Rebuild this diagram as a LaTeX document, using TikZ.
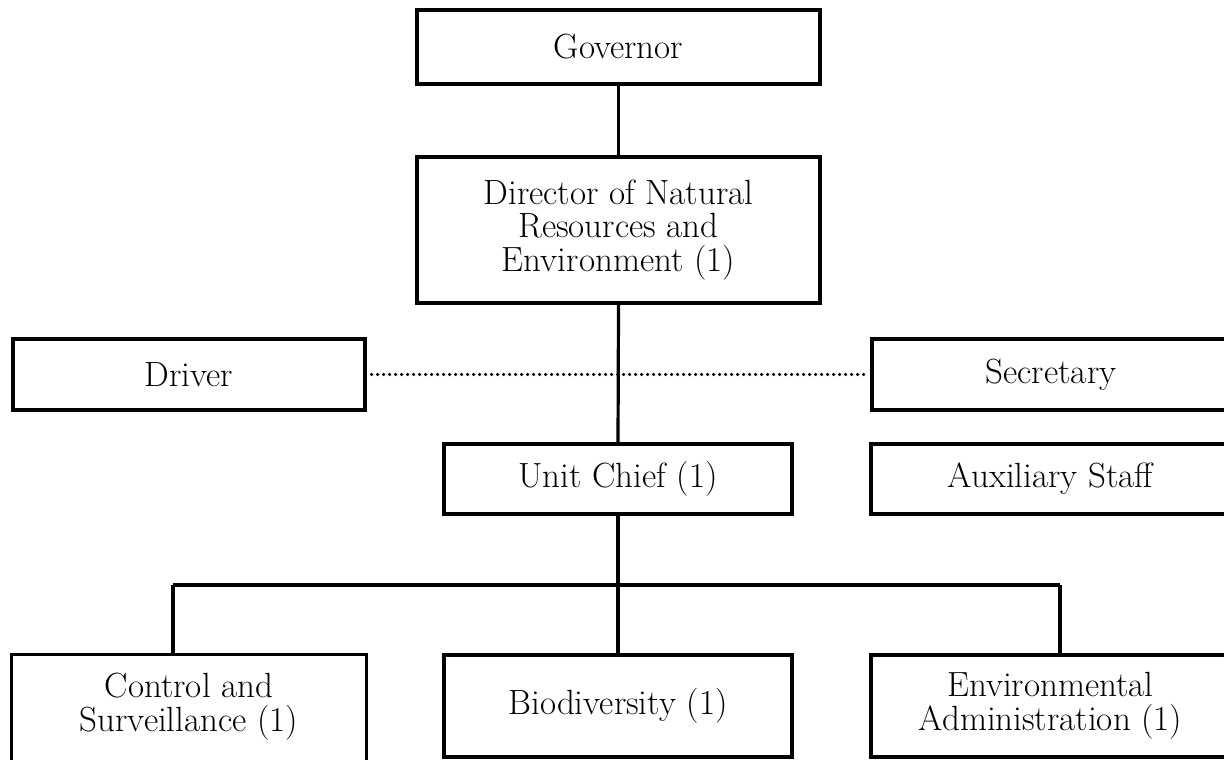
\documentclass[tikz,border=0pt]{standalone}
\begin{document}
\begin{tikzpicture}[x=0.5pt,y=-0.5pt,
  box/.style={draw=black,line width=1.6pt,inner sep=0pt,align=center,anchor=center,
    font=\fontsize{17.5pt}{16.8pt}\selectfont},
  conn/.style={draw=black,line width=1.6pt},
  dotline/.style={draw=black,line width=1.7pt,line cap=round,dash pattern=on 0pt off 3pt}]
\useasboundingbox (0,0) rectangle (1224,759);
\clip (0,0) rectangle (1224,759);
\node[box,minimum width=201.5pt,minimum height=37pt] (gov) at (618.5,47) {Governor};
\node[box,minimum width=201.5pt,minimum height=73pt] (dir) at (618.5,230) {Director of Natural\\Resources and\\Environment (1)};
\node[box,minimum width=176pt,minimum height=35.5pt] (drv) at (189,374.5) {Driver};
\node[box,minimum width=179pt,minimum height=35.5pt] (sec) at (1051,374.5) {Secretary};
\node[box,minimum width=174pt,minimum height=35pt] (unit) at (618,479) {Unit Chief (1)};
\node[box,minimum width=179.5pt,minimum height=35pt] (aux) at (1050.5,479) {Auxiliary Staff};
\node[box,draw=none,minimum width=176pt,minimum height=50.5pt] (ctrl) at (189,706.5) {Control and\\Surveillance (1)};
\node[box,minimum width=174pt,minimum height=51pt] (bio) at (618,706) {Biodiversity (1)};
\node[box,minimum width=179.5pt,minimum height=51pt] (env) at (1050.5,706) {Environmental\\Administration (1)};
\draw[conn] ([yshift=-6pt]ctrl.south west) -- (ctrl.north west) -- (ctrl.north east) -- ([yshift=-6pt]ctrl.south east);
\coordinate (bl) at (173,585);
\coordinate (br) at (1060,585);
\draw[conn] (gov.south) -- (dir.north);
\draw[conn] (dir.south) -- (unit.north);
\draw[conn] (unit.south) -- (bio.north);
\draw[conn] (bl) -- (br);
\draw[conn] (bl) -- (bl |- ctrl.north);
\draw[conn] (br) -- (br |- env.north);
\draw[dotline] ([xshift=2.5pt]drv.east) -- ([xshift=-2.5pt]sec.west);
\end{tikzpicture}
\end{document}
